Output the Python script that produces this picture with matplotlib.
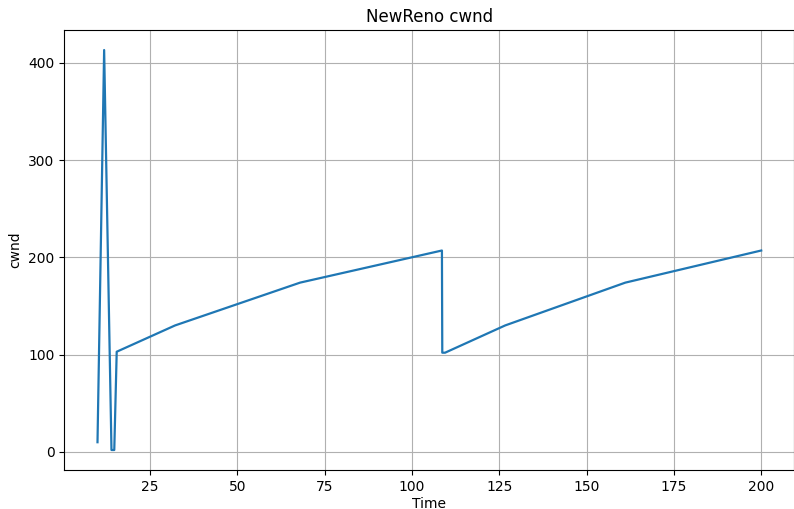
import matplotlib
matplotlib.use('Agg')
import matplotlib.pyplot as plt

# cwnd trace
times = [10.0, 11.9, 14.0, 14.8, 15.5, 32.2, 68.0, 108.6, 108.7, 109.5, 126.7, 161.1, 200.0]
cwnd = [10, 413, 2, 2, 103, 130, 174, 207, 102, 102, 130, 174, 207]

fig = plt.figure(figsize=(7.94, 5.09), dpi=100)
ax = fig.add_axes([0.081, 0.0766, 0.9195, 0.8644])

ax.plot(times, cwnd, color='#1f77b4', linewidth=1.6)

ax.set_title('NewReno cwnd')
ax.set_xlabel('Time', labelpad=2)
ax.set_ylabel('cwnd')
ax.grid(True)

fig.savefig('out.png', dpi=100)
plt.close(fig)
